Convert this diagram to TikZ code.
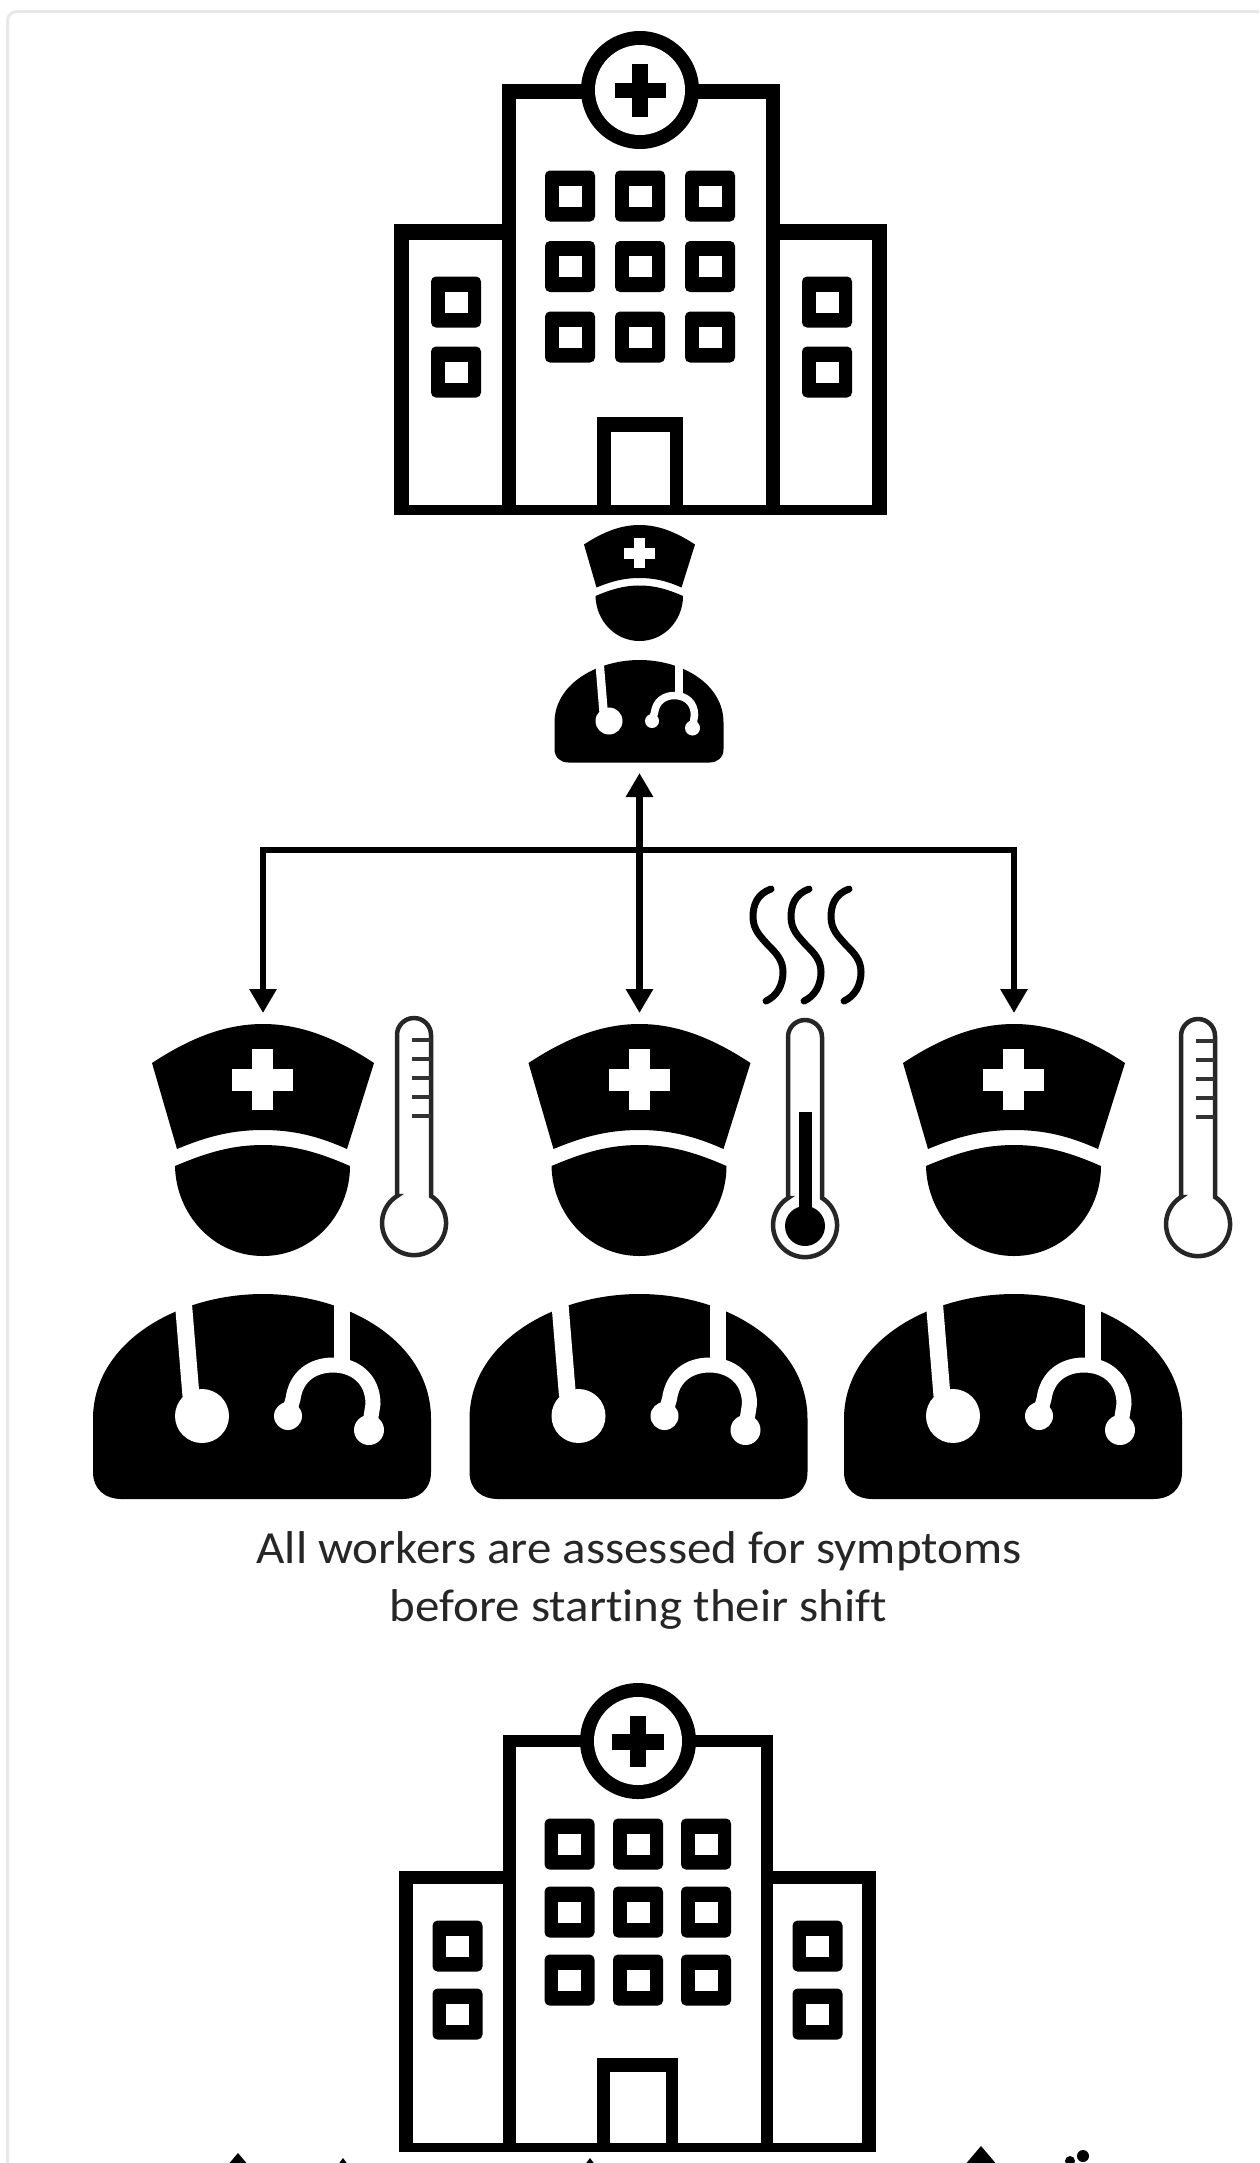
\documentclass[tikz,border=0pt]{standalone}
\usepackage{fontspec}
\setmainfont[Ligatures=NoCommon]{Carlito}
\usetikzlibrary{arrows.meta}
\tikzset{
  x=1pt,y=-1pt,
  iconbox/.style={inner sep=0pt,outer sep=0pt,minimum width=#1},
  blk/.style={fill=black,draw=none},
  wht/.style={fill=white,draw=none},
  conn/.style={draw=black,line width=6.5pt,-{Triangle[width=26pt,length=24pt]}},
  fume/.style={draw=black,line width=7pt,line cap=round},
  thermo/.style={draw=black!85,line width=4.5pt,fill=white},
  tick/.style={draw=black!80,line width=4.5pt},
  caption/.style={inner sep=0pt,anchor=base,text=black!85,xscale=1.065,transform shape,font=\fontsize{46pt}{58pt}\selectfont},
}
% rounded window: centre x, centre y
\newcommand\hwin[2]{%
  \fill[black,rounded corners=5pt] (#1-25,#2-25.5) rectangle (#1+25,#2+25.5);
  \fill[white] (#1-11.5,#2-10.5) rectangle (#1+11.5,#2+10.5);}
% cross: centre x, centre y, half span x, half span y, half thickness x, half thickness y
\newcommand\hplus[6]{%
  \fill[black] (#1-#3,#2-#6) rectangle (#1+#3,#2+#6);
  \fill[black] (#1-#5,#2-#4) rectangle (#1+#5,#2+#4);}
% nurse icon: x, y of cap top, scale
\newcommand\nurseicon[3]{%
  \begin{scope}[shift={(#1,#2)},scale=#3]
    \path[blk] (-111,39) .. controls (-70,12) and (-35,0) .. (0,0) .. controls (35,0) and (70,12) .. (111,39)
       -- (84,125) .. controls (55,112) and (30,106) .. (0,106) .. controls (-30,106) and (-55,112) .. (-86,125) -- cycle;
    \path[wht] (-11,25) rectangle (10,86);
    \path[wht] (-31,45) rectangle (30,67);
    \path[blk] (-88,142) .. controls (-55,128) and (-30,121) .. (0,121) .. controls (30,121) and (55,128) .. (87,142)
       .. controls (87,190) and (50,232) .. (0,232) .. controls (-50,232) and (-87,190) .. (-88,142) -- cycle;
    \path[blk] (-170,395) .. controls (-170,318) and (-85,270) .. (0,270) .. controls (85,270) and (168,318) .. (168,395)
       -- (168,448) .. controls (168,466) and (155,475) .. (140,475) -- (-142,475)
       .. controls (-157,475) and (-170,466) .. (-170,448) -- cycle;
    \draw[white,line width=#3*17pt] (-81,262) -- (-72,372);
    \draw[white,line width=#3*16pt] (78.5,262) -- (78.5,345);
    \draw[white,line width=#3*15pt] (25,392) -- (30,375) .. controls (33,352) and (50,341) .. (70,341)
       .. controls (92,341) and (110,355) .. (110,380) -- (106,406);
    \fill[white] (-61,392) circle[radius=27];
    \fill[white] (25,392) circle[radius=14];
    \fill[white] (106,406) circle[radius=15];
  \end{scope}}
% thermometer: centre x, top y
\newcommand\thermoicon[2]{%
  \begin{scope}[shift={(#1,#2)}]
    \path[thermo] (-17,180) -- (-17,19) arc[start angle=180,end angle=360,radius=17] -- (17,180)
      arc[start angle=-58,end angle=238,radius=32] -- cycle;
  \end{scope}}
\newcommand\thermoticks[2]{%
  \foreach \ty in {24,43,62,81,100}{\draw[tick] (#1-2,#2+\ty) -- (#1+17,#2+\ty);}}
\newcommand\fumeicon[1]{%
  \begin{scope}[shift={(#1,0)}]
    \path[fume] (771,889) .. controls (757,894) and (753,905) .. (753,917)
      .. controls (753,930) and (761,937) .. (768,945)
      .. controls (776,953) and (783,960) .. (783,972)
      .. controls (783,985) and (777,996) .. (766,1001);
  \end{scope}}
\begin{document}
\begin{tikzpicture}
\useasboundingbox (0,0) rectangle (1259,2163);
\clip (0,0) rectangle (1259,2163);
\fill[white] (0,0) rectangle (1259,2163);
% card border
\draw[draw=black!9,line width=3pt] (7.5,2170) -- (7.5,21) .. controls (7.5,15) and (12,11.5) .. (18,11.5) -- (1265,11.5);

% ---------- first hospital
\fill[black] (394,224) rectangle (887,515);
\fill[white] (409,240) rectangle (872,505);
\fill[black] (502,84) rectangle (780,515);
\fill[white] (515.5,98.5) rectangle (766,505);
\fill[black] (597,417) rectangle (683,515);
\fill[white] (611,432) rectangle (670,505);
\fill[black] (640,90) circle[radius=59];
\fill[white] (640,90) circle[radius=45];
\hplus{640}{90}{25.5}{26.5}{8}{7.5}
\foreach \wx in {570,640,710}{\foreach \wy in {196,266.5,337}{\hwin{\wx}{\wy}}}
\foreach \wx in {456,827}{\foreach \wy in {302,372}{\hwin{\wx}{\wy}}}

% ---------- nurses
\node[iconbox=169pt,minimum height=248pt,anchor=south] (chief) at (639.5,773) {};
\node[iconbox=338pt,minimum height=487pt,anchor=north] (nurseA) at (263,1013) {};
\node[iconbox=338pt,minimum height=487pt,anchor=north] (nurseB) at (639.5,1013) {};
\node[iconbox=338pt,minimum height=487pt,anchor=north] (nurseC) at (1014,1013) {};
\coordinate (bus) at (639.5,850);
\nurseicon{639.5}{525}{0.5}
\nurseicon{263}{1024}{1}
\nurseicon{639.5}{1024}{1}
\nurseicon{1014}{1024}{1}

% ---------- connectors
\draw[conn,{Triangle[width=26pt,length=24pt]}-{Triangle[width=26pt,length=24pt]}] (chief.south) -- (nurseB.north);
\draw[conn] (bus) -| (nurseA.north);
\draw[conn] (bus) -| (nurseC.north);

% ---------- thermometers and fumes
\thermoicon{414}{1016}\thermoticks{414}{1016}
\thermoicon{805}{1018}
\fill[black] (798.5,1112) rectangle (811.5,1215);
\fill[black] (805,1226) circle[radius=20];
\thermoicon{1198}{1017}\thermoticks{1198}{1017}
\fumeicon{0}\fumeicon{38}\fumeicon{78}

% ---------- caption
\node[caption] (capA) at (639,1563) {All workers are assessed for symptoms};
\node[caption] (capB) at (638.5,1621) {before starting their shift};

% ---------- second hospital
\fill[black] (399,1871) rectangle (876,2152);
\fill[white] (413,1884) rectangle (862,2143);
\fill[black] (503,1735) rectangle (773,2152);
\fill[white] (516,1747) rectangle (761,2143);
\fill[black] (597,2058) rectangle (678,2152);
\fill[white] (610,2072) rectangle (666,2143);
\fill[black] (638,1741) circle[radius=58];
\fill[white] (638,1741) circle[radius=44];
\hplus{637.5}{1741.5}{26}{25.5}{8}{8}
\foreach \wx in {569.5,638,706}{\foreach \wy in {1844,1912,1980}{\hwin{\wx}{\wy}}}
\foreach \wx in {457.5,817.5}{\foreach \wy in {1946,2014}{\hwin{\wx}{\wy}}}

% ---------- tops of shapes cut off by the lower edge
\fill[black] (238,2153) -- (249,2166) -- (227,2166) -- cycle;
\fill[black] (343,2158) -- (349,2166) -- (337,2166) -- cycle;
\fill[black] (590,2158) -- (596,2166) -- (584,2166) -- cycle;
\fill[black] (981,2146) -- (998,2166) -- (964,2166) -- cycle;
\fill[black] (1083,2156) circle[radius=6];
\fill[black] (1070,2161) circle[radius=5];
\end{tikzpicture}
\end{document}
